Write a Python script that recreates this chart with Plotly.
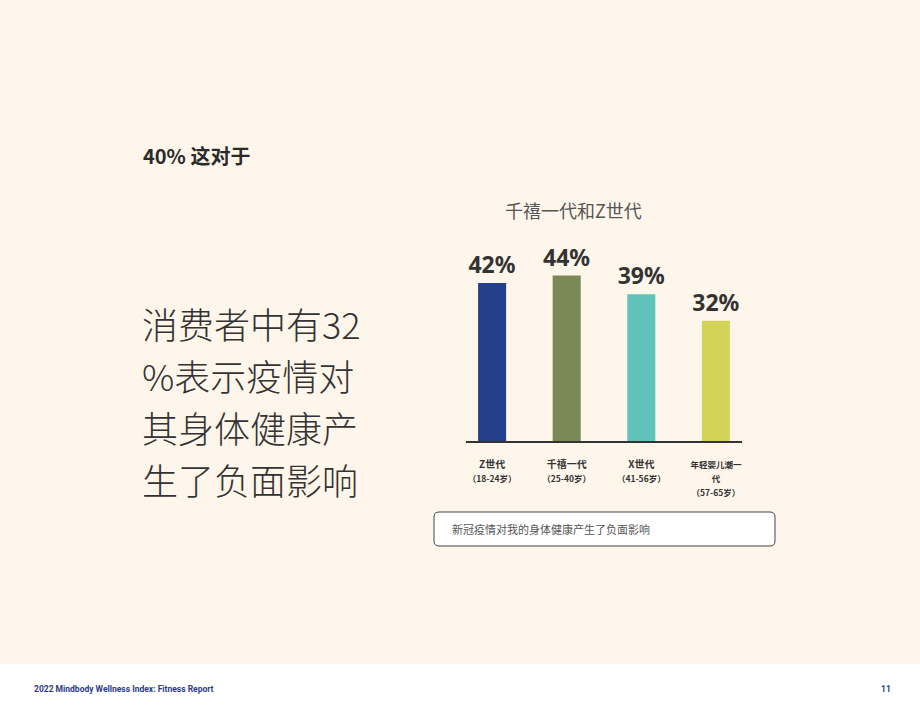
import plotly.graph_objects as go

# 数据
generations = ["Z世代", "千禧一代", "X世代", "年轻婴儿潮一<br>代"]
age_ranges = ["（18-24岁）", "（25-40岁）", "（41-56岁）", "（57-65岁）"]
values = [42, 44, 39, 32]
bar_colors = ["#233F8C", "#7A8A57", "#60C3BB", "#D3D259"]

chart_title = "千禧一代和Z世代"
legend_text = "新冠疫情对我的身体健康产生了负面影响"
headline = "40% 这对于"
big_lines = ["消费者中有32", "%表示疫情对", "其身体健康产", "生了负面影响"]
footer_left = "2022 Mindbody Wellness Index: Fitness Report"
footer_right = "11"

W, H = 920, 711
cjk = "Noto Sans CJK SC, Noto Sans, sans-serif"


def tick_label(name, age):
    # 换行的长名称用小一号字
    size = 8.5 if "<br>" in name else 10
    lines = [f"<b><span style='font-size:{size}px'>{p}</span></b>" for p in name.split("<br>")]
    lines.append(f"<b><span style='font-size:8.5px'>{age}</span></b>")
    return "<br>".join(lines)


ticktext = [tick_label(g, a) for g, a in zip(generations, age_ranges)]

fig = go.Figure()
fig.add_trace(go.Bar(
    x=list(range(len(values))),
    y=values,
    width=0.376,
    marker=dict(color=bar_colors, line=dict(width=0)),
    text=[f"{v}%" for v in values],
    textposition="outside",
    constraintext="none",
    textfont=dict(family="Noto Sans, sans-serif", size=23, color="#333333", weight="bold"),
    cliponaxis=False,
    showlegend=False,
    hoverinfo="skip",
))

def px(x):
    return x / W

def py(y):
    return 1 - y / H


def rounded_box(x0, y0, x1, y1, r):
    # 圆角矩形路径(纸张坐标)
    a, b = px(x0), px(x1)
    top, bot = py(y0), py(y1)
    rx, ry = r / W, r / H
    return (f"M{a + rx},{top} L{b - rx},{top} Q{b},{top} {b},{top - ry} "
            f"L{b},{bot + ry} Q{b},{bot} {b - rx},{bot} "
            f"L{a + rx},{bot} Q{a},{bot} {a},{bot + ry} "
            f"L{a},{top - ry} Q{a},{top} {a + rx},{top} Z")


fig.update_layout(
    width=W, height=H,
    margin=dict(l=0, r=0, t=0, b=0),
    paper_bgcolor="#FEF6EA",
    plot_bgcolor="rgba(0,0,0,0)",
    xaxis=dict(
        domain=[px(466), px(742)],
        range=[-0.35, 3.35],
        tickvals=list(range(len(values))),
        ticktext=ticktext,
        tickfont=dict(family=cjk, size=10.5, color="#333333"),
        showline=True, linecolor="#333333", linewidth=1.5,
        showgrid=False, zeroline=False, ticks="",
        ticklabelstandoff=13,
    ),
    yaxis=dict(
        domain=[py(441), py(253)],
        range=[0, 50],
        visible=False,
    ),
    font=dict(family=cjk),
)

shapes = [
    # 底部白色页脚
    dict(type="rect", xref="paper", yref="paper", x0=0, x1=1, y0=0, y1=py(664),
         fillcolor="#FFFFFF", line=dict(width=0), layer="below"),
    # 图例框
    dict(type="path", xref="paper", yref="paper",
         path=rounded_box(434, 512, 775, 546, 5), fillcolor="#FFFFFF",
         line=dict(color="#444444", width=1)),
]

annotations = [
    dict(text=chart_title, x=px(573), y=py(210), xref="paper", yref="paper",
         showarrow=False, xanchor="center", yanchor="middle",
         font=dict(family=cjk, size=18, color="#555555")),
    dict(text=legend_text, x=px(450), y=py(529), xref="paper", yref="paper",
         showarrow=False, xanchor="left", yanchor="middle",
         font=dict(family=cjk, size=11, color="#555555")),
    dict(text=f"<b>{headline}</b>", x=px(141), y=py(155), xref="paper", yref="paper",
         showarrow=False, xanchor="left", yanchor="middle",
         font=dict(family=cjk, size=20, color="#2A2A2A")),
    dict(text=f"<b>{footer_left}</b>", x=px(32), y=py(689), xref="paper", yref="paper",
         showarrow=False, xanchor="left", yanchor="middle",
         font=dict(family="Liberation Sans Narrow, Roboto, sans-serif", size=8.5, color="#2B3A8C")),
    dict(text=f"<b>{footer_right}</b>", x=px(893), y=py(689), xref="paper", yref="paper",
         showarrow=False, xanchor="right", yanchor="middle",
         font=dict(family="Liberation Sans Narrow, Roboto, sans-serif", size=8.5, color="#2B3A8C")),
]

for i, line in enumerate(big_lines):
    annotations.append(dict(
        text=line, x=px(140), y=py(323 + i * 52), xref="paper", yref="paper",
        showarrow=False, xanchor="left", yanchor="middle",
        font=dict(family=cjk, size=36, color="#333333", weight=300),
    ))

fig.update_layout(shapes=shapes, annotations=annotations)

fig.write_html("out.html", config={"displayModeBar": False},
               post_script="document.body.style.margin='0';")
